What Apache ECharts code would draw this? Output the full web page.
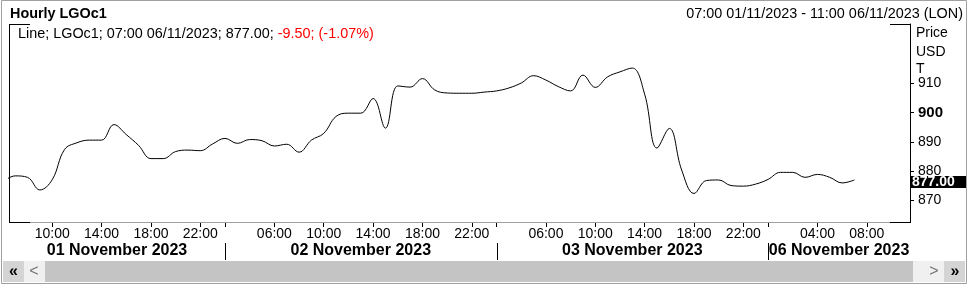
<!DOCTYPE html>
<html><head><meta charset="utf-8">
<script src="https://cdn.jsdelivr.net/npm/echarts@6/dist/echarts.min.js"></script>
<style>html,body{margin:0;padding:0;background:#fff}#c{width:969px;height:285px}</style>
</head><body><div id="c"></div>
<script>
// Trading sessions (hourly bars, close-time labels): [date, first hour, last hour]
const sessions = [
  ['2023-11-01', 6, 23],
  ['2023-11-02', 2, 23],
  ['2023-11-03', 2, 23],
  ['2023-11-06', 0, 11]
];
const dayLabels = ['01 November 2023', '02 November 2023', '03 November 2023', '06 November 2023'];
// Hourly closes from 06:00 01/11 to 07:00 06/11
const prices = [
  876.3, 878.4, 877.9, 873.6, 877.1, 887.4, 889.7, 890.6, 890.6, 895.9, 892.5, 888.8, 884.3, 884.3, 886.7, 887.2, 887.0, 889.3,
  891.2, 889.5, 890.8, 890.4, 888.6, 889.2, 886.5, 890.6, 892.9, 898.7, 899.8, 899.8, 904.8, 894.7, 909.1, 908.7, 911.6, 907.7, 906.7, 906.6, 906.6, 907.0,
  907.4, 908.4, 910.1, 912.6, 911.1, 908.9, 907.4, 912.8, 908.6, 912.2, 913.9, 915.2, 906.3, 887.9, 894.6, 880.4, 872.4, 876.8, 877.0, 875.1, 874.9, 875.6,
  877.2, 879.6, 879.6, 877.9, 878.9, 877.9, 876.0, 877.0
];
const hourLabels = [
  '2023-11-01 10:00', '2023-11-01 14:00', '2023-11-01 18:00', '2023-11-01 22:00',
  '2023-11-02 06:00', '2023-11-02 10:00', '2023-11-02 14:00', '2023-11-02 18:00', '2023-11-02 22:00',
  '2023-11-03 06:00', '2023-11-03 10:00', '2023-11-03 14:00', '2023-11-03 18:00', '2023-11-03 22:00',
  '2023-11-06 04:00', '2023-11-06 08:00'
];
const yTicks = [870, 880, 890, 900, 910];
const lastPrice = 877.00, lastTime = '07:00 06/11/2023', change = '-9.50', changePct = '(-1.07%)';
const rangeText = '07:00 01/11/2023 - 11:00 06/11/2023 (LON)';

const times = [];
sessions.forEach(([d, h0, h1]) => { for (let h = h0; h <= h1; h++) times.push(d + ' ' + String(h).padStart(2, '0') + ':00'); });
const axisTimes = times.slice(1);
const dayStarts = sessions.map((s, k) => k === 0 ? axisTimes[0] : s[0] + ' ' + String(s[1]).padStart(2, '0') + ':00');
const labelSet = new Set(hourLabels);
const dayTickSet = new Set(dayStarts.slice(1));

const FONT = 'Liberation Sans, Arial, sans-serif';
const L = 9, R = 910, T = 24, B = 222;
const chart = echarts.init(document.getElementById('c'));
chart.setOption({
  animation: false,
  grid: { left: L, right: 969 - R, top: T, bottom: 285 - B },
  xAxis: [
    { type: 'value', min: 0.5, max: times.length - 0.5, show: false },
    { type: 'category', data: axisTimes, boundaryGap: true, position: 'bottom',
      axisLine: { show: false },
      axisTick: { show: true, alignWithLabel: true, length: 5,
        interval: (i, v) => labelSet.has(v) || dayTickSet.has(v), lineStyle: { color: '#000' } },
      axisLabel: { interval: (i, v) => labelSet.has(v), formatter: v => v.slice(11),
        margin: 5, fontFamily: FONT, fontSize: 14, color: '#000' },
      splitLine: { show: false } }
  ],
  yAxis: { type: 'value', position: 'right', min: 862.66, max: 930.24, scale: true,
    axisLine: { show: true, lineStyle: { color: '#000' } },
    axisTick: { show: true, length: 4, customValues: yTicks, lineStyle: { color: '#000' } },
    axisLabel: { customValues: yTicks, margin: 8, fontFamily: FONT, fontSize: 14, color: '#000',
      formatter: v => v === 900 ? '{b|900}' : String(v),
      rich: { b: { fontFamily: FONT, fontSize: 15, fontWeight: 'bold', color: '#000' } } },
    splitLine: { show: false } },
  series: [{
    type: 'line', xAxisIndex: 0, data: prices.map((v, i) => [i, v]),
    smooth: 0.4, symbol: 'none', clip: true,
    lineStyle: { color: '#000', width: 1 }
  }]
});

const px = t => chart.convertToPixel({ xAxisIndex: 1 }, t);
const py = v => chart.convertToPixel({ yAxisIndex: 0 }, v);
const g = [];
// outer frame
g.push({ type: 'rect', shape: { x: 1.5, y: 0.5, width: 965, height: 283 }, style: { fill: null, stroke: '#a0a0a0', lineWidth: 1 }, z: 1 });
// plot border
const line = (x1, y1, x2, y2, c) => g.push({ type: 'line', shape: { x1, y1, x2, y2 }, style: { stroke: c, lineWidth: 1 }, z: 5 });
line(L + 0.5, T + 0.5, L + 0.5, B + 0.5, '#000');
line(R + 0.5, T + 0.5, R + 0.5, B + 0.5, '#000');
line(L, T + 0.5, 30, T + 0.5, '#000');
line(890, T + 0.5, R + 1, T + 0.5, '#000');
line(30, B + 0.5, 890, B + 0.5, '#a0a0a0');
line(L, B + 0.5, 30, B + 0.5, '#000');
line(890, B + 0.5, R + 1, B + 0.5, '#000');
// header
g.push({ type: 'text', style: { text: 'Hourly LGOc1', x: 10, y: 14, font: 'bold 14.4px ' + FONT, fill: '#000', textVerticalAlign: 'middle' } });
g.push({ type: 'text', style: { text: rangeText, x: 963, y: 14, font: '14.4px ' + FONT, fill: '#000', textAlign: 'right', textVerticalAlign: 'middle' } });
g.push({ type: 'text', style: { text: '{a|Line; LGOc1; ' + lastTime + '; ' + lastPrice.toFixed(2) + '; }{r|' + change + '; ' + changePct + '}',
  x: 18, y: 34, textVerticalAlign: 'middle',
  rich: { a: { font: '14.4px ' + FONT, fill: '#000', color: '#000' }, r: { font: '14.4px ' + FONT, fill: '#ff0000', color: '#ff0000' } } } });
['Price', 'USD', 'T'].forEach((t, k) => g.push({ type: 'text', style: { text: t, x: 916, y: [33, 52, 69][k], font: '14px ' + FONT, fill: '#000', textVerticalAlign: 'middle' } }));
// last price tag
const yl = py(lastPrice);
g.push({ type: 'rect', shape: { x: R, y: Math.round(yl) - 4, width: 56, height: 12 }, style: { fill: '#000' }, z: 10 });
g.push({ type: 'text', style: { text: lastPrice.toFixed(2), x: 912, y: Math.round(yl) + 2, font: 'bold 14px ' + FONT, fill: '#fff', textVerticalAlign: 'middle' }, z: 11 });
// day labels and separators
dayStarts.forEach((d, k) => {
  const x0 = k === 0 ? L : px(d);
  const x1 = k < dayStarts.length - 1 ? px(dayStarts[k + 1]) : R;
  if (k > 0) line(Math.round(x0) + 0.5, 243, Math.round(x0) + 0.5, 260, '#000');
  g.push({ type: 'text', style: { text: dayLabels[k], x: (x0 + x1) / 2, y: 251, font: 'bold 16px ' + FONT, fill: '#000', textAlign: 'center', textVerticalAlign: 'middle' } });
});
// scrollbar
const rect = (x, y, w, h, c) => g.push({ type: 'rect', shape: { x, y, width: w, height: h }, style: { fill: c }, z: 2 });
rect(3, 261, 21, 21, '#d4d4d4');
rect(24, 261, 21, 21, '#f0f0f0');
rect(45, 261, 868, 21, '#c4c4c4');
rect(913, 261, 31, 21, '#f0f0f0');
rect(944, 261, 21, 21, '#d4d4d4');
const glyph = (t, x, c, b, s) => g.push({ type: 'text', style: { text: t, x, y: 271.5, font: (b ? 'bold ' : '') + s + 'px ' + FONT, fill: c, textAlign: 'center', textVerticalAlign: 'middle' }, z: 3 });
glyph('«', 13.5, '#000', true, 16);
glyph('<', 34, '#707070', false, 16);
glyph('>', 934, '#707070', false, 16);
glyph('»', 955, '#000', true, 16);
chart.setOption({ graphic: g });
</script></body></html>
